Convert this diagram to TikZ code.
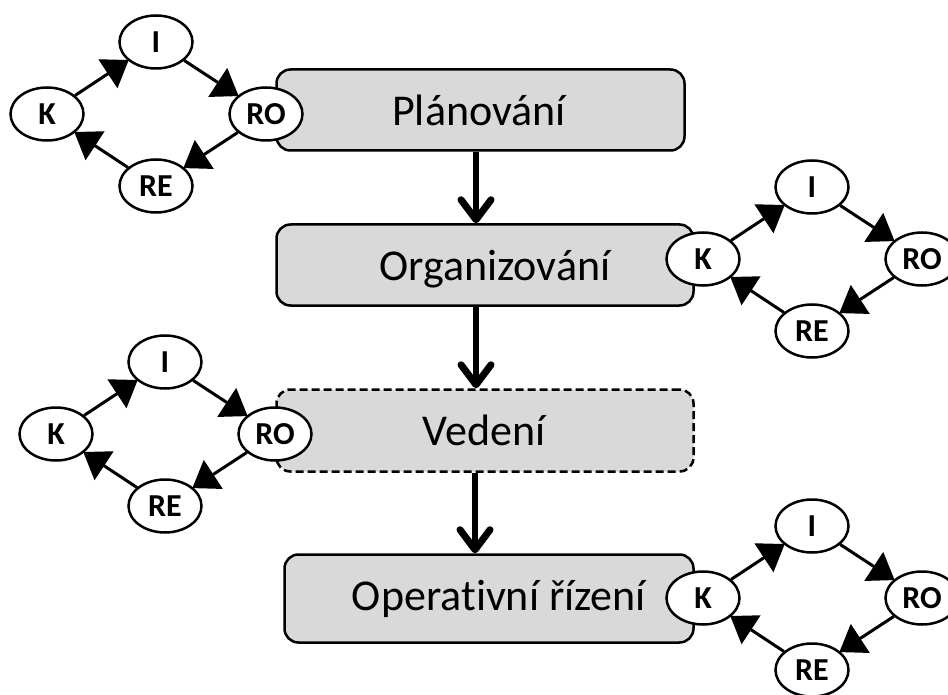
\documentclass[tikz,border=0pt]{standalone}
\usepackage{fontspec}
\setmainfont{Carlito}[Ligatures=NoCommon]
\usetikzlibrary{arrows.meta,shapes.geometric}

\definecolor{boxgray}{HTML}{D9D9D9}

\tikzset{
  stage/.style={draw=black, line width=2.5pt, fill=boxgray,
    rounded corners=14pt, inner sep=0pt},
  stagetext/.style={anchor=base, inner sep=0pt, font=\fontsize{44}{50}\selectfont},
  phase/.style={ellipse, draw=black, line width=2.5pt, fill=white,
    minimum width=73pt, minimum height=53pt, inner sep=0pt,
    font=\fontsize{32}{36}\selectfont\bfseries},
  flow/.style={line width=5.5pt,
    -{Straight Barb[length=20pt, width=30pt, line width=7pt, round]}},
  loopedge/.style={line width=3pt, shorten >=-1pt,
    -{Triangle[length=25pt, width=34pt]}},
}

% one control loop: K -> I -> RO -> RE -> K, with K centred at (#2,#3)
\newcommand{\pdloop}[3]{%
  \node[phase] (#1K)  at (#2, #3)          {K};
  \node[phase] (#1I)  at (#2+109, #3-72)   {I};
  \node[phase] (#1RO) at (#2+219, #3)      {RO};
  \node[phase] (#1RE) at (#2+109, #3+72)   {RE};
  \draw[loopedge] (#1K)  -- (#1I);
  \draw[loopedge] (#1I)  -- (#1RO);
  \draw[loopedge] (#1RO) -- (#1RE);
  \draw[loopedge] (#1RE) -- (#1K);
}

\begin{document}
\begin{tikzpicture}[x=1pt, y=-1pt]
\useasboundingbox (0,0) rectangle (948,695);

% management functions
\node[stage, minimum width=408pt, minimum height=81pt] (plan) at (480.5,110) {};
\node[stage, minimum width=417pt, minimum height=81pt] (org)  at (485,265) {};
\node[stage, dash pattern=on 8pt off 4pt,
      minimum width=417pt, minimum height=82pt] (ved) at (485,430.5) {};
\node[stage, minimum width=409pt, minimum height=88pt] (oper) at (489,598.5) {};

\node[stagetext] (plantext) at (479,126) {Plánování};
\node[stagetext] (orgtext)  at (495,280) {Organizování};
\node[stagetext] (vedtext)  at (484,445) {Vedení};
\node[stagetext] (opertext) at (499,610) {Operativní řízení};

\draw[flow] (plan.south -| 476,0) -- (org.north -| 476,0);
\draw[flow] (org.south -| 476,0)  -- (ved.north -| 476,0);
\draw[flow] (ved.south -| 475,0)  -- (oper.north -| 475,0);

% control loops beside each function
\pdloop{a}{47}{114}
\pdloop{b}{703}{259}
\pdloop{c}{56}{434}
\pdloop{d}{703}{598}
\end{tikzpicture}
\end{document}
